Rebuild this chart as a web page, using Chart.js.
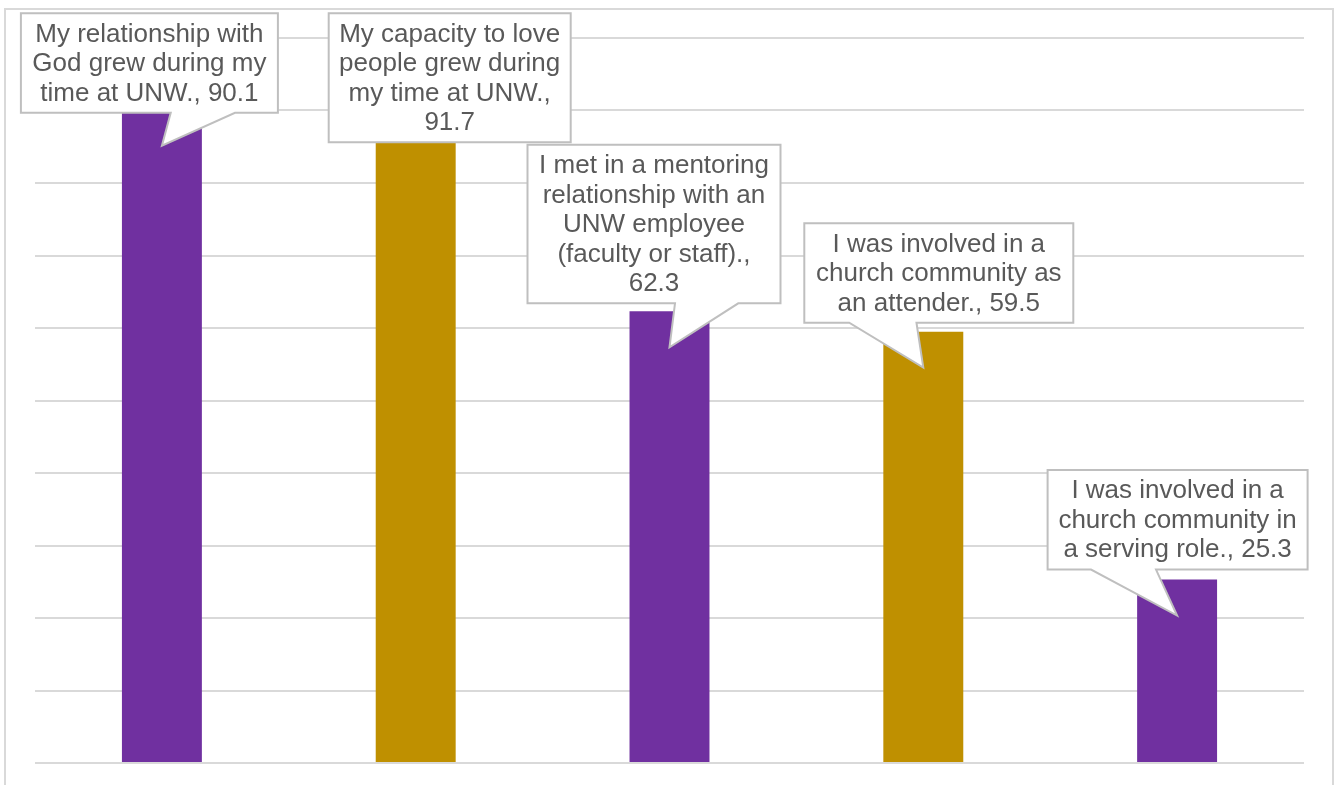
<!DOCTYPE html>
<html>
<head>
<meta charset="utf-8">
<script src="https://cdn.jsdelivr.net/npm/chart.js@4.4.1/dist/chart.umd.min.js"></script>
<style>
  html, body { margin: 0; padding: 0; background: #fff; overflow: hidden; }
  #frame {
    position: absolute; left: 4px; top: 8px;
    width: 1326px; height: 800px;
    border: 2px solid #d9d9d9;
  }
  #chartCanvas { position: absolute; left: 0; top: 0; }
</style>
</head>
<body>
<div id="frame"></div>
<canvas id="chartCanvas" width="1335" height="785"></canvas>
<script>
// categories, split the way the callouts wrap them
const categoryLines = [
  ["My relationship with", "God grew during my", "time at UNW., 90.1"],
  ["My capacity to love", "people grew during", "my time at UNW.,", "91.7"],
  ["I met in a mentoring", "relationship with an", "UNW employee", "(faculty or staff).,", "62.3"],
  ["I was involved in a", "church community as", "an attender., 59.5"],
  ["I was involved in a", "church community in", "a serving role., 25.3"]
];
const categories = [
  "My relationship with God grew during my time at UNW.",
  "My capacity to love people grew during my time at UNW.",
  "I met in a mentoring relationship with an UNW employee (faculty or staff).",
  "I was involved in a church community as an attender.",
  "I was involved in a church community in a serving role."
];
const percentValues = [90.1, 91.7, 62.3, 59.5, 25.3];
const barColors = ["#7030A0", "#BF9000", "#7030A0", "#BF9000", "#7030A0"];

// where each callout box sits relative to the top of its bar
const calloutLayout = [
  { dx: -12.5, dy: 3,  w: 257 },
  { dx: 34,    dy: 44, w: 242 },
  { dx: -15.5, dy: -8, w: 253 },
  { dx: 15.5,  dy: -9, w: 269 },
  { dx: 0.5,   dy: -10, w: 260 }
];

const LINE_H = 29.5;
const TIP_DROP = 36;

const calloutPlugin = {
  id: "callouts",
  afterDatasetsDraw(chart) {
    const ctx = chart.ctx;
    const meta = chart.getDatasetMeta(0);
    ctx.save();
    ctx.font = "26px 'Liberation Sans', Arial, sans-serif";
    ctx.textAlign = "center";
    ctx.textBaseline = "middle";
    meta.data.forEach((bar, i) => {
      const lay = calloutLayout[i];
      const lines = categoryLines[i];
      const h = lines.length * LINE_H + 11;
      const cx = bar.x + lay.dx;
      const B = bar.y + lay.dy;
      const T = B - h;
      const L = cx - lay.w / 2;
      const R = cx + lay.w / 2;
      const tipX = bar.x, tipY = bar.y + TIP_DROP;

      ctx.beginPath();
      ctx.moveTo(L, T);
      ctx.lineTo(R, T);
      ctx.lineTo(R, B);
      if (tipY > B) {
        // wedge base like excel: right or left part of bottom edge
        const right = tipX > cx;
        const b1 = L + lay.w * (right ? 0.583 : 0.167);
        const b2 = L + lay.w * (right ? 0.833 : 0.417);
        ctx.lineTo(b2, B);
        ctx.lineTo(tipX, tipY);
        ctx.lineTo(b1, B);
      }
      ctx.lineTo(L, B);
      ctx.closePath();
      ctx.fillStyle = "#ffffff";
      ctx.fill();
      ctx.lineWidth = 2;
      ctx.strokeStyle = "#bfbfbf";
      ctx.stroke();

      ctx.fillStyle = "#595959";
      const top = T + (h - lines.length * LINE_H) / 2;
      lines.forEach((ln, k) => {
        ctx.fillText(ln, cx, top + LINE_H * k + LINE_H / 2 + 1);
      });
    });
    ctx.restore();
  }
};

const canvas = document.getElementById("chartCanvas");
new Chart(canvas, {
  type: "bar",
  data: {
    labels: categories,
    datasets: [{
      data: percentValues,
      backgroundColor: barColors,
      borderWidth: 0,
      barPercentage: 0.315,
      categoryPercentage: 1
    }]
  },
  options: {
    responsive: false,
    animation: false,
    devicePixelRatio: 1,
    layout: { padding: { left: 35, right: 31, top: 38, bottom: 22 } },
    plugins: {
      legend: { display: false },
      tooltip: { enabled: false }
    },
    scales: {
      x: { display: false },
      y: {
        min: 0,
        max: 100,
        ticks: { display: false, stepSize: 10 },
        border: { display: false },
        grid: { color: "#d9d9d9", lineWidth: 2, drawTicks: false }
      }
    }
  },
  plugins: [calloutPlugin]
});
</script>
</body>
</html>
